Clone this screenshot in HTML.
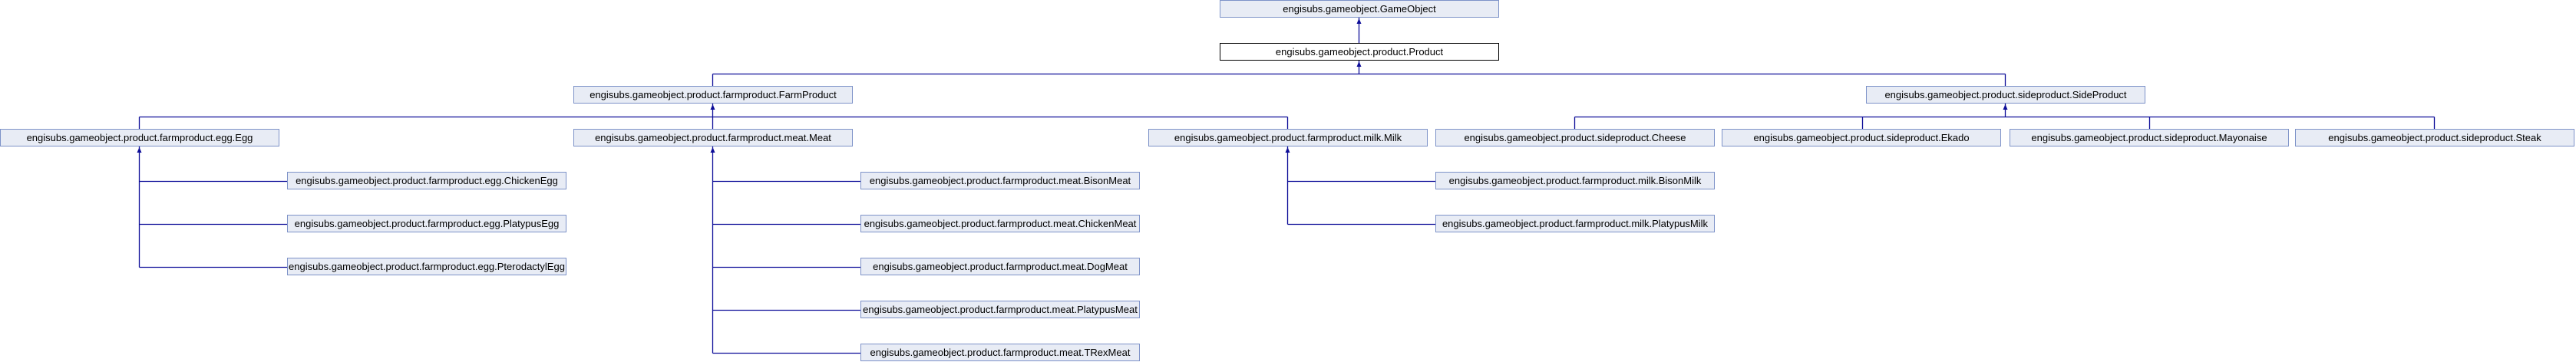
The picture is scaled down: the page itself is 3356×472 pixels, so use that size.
<!DOCTYPE html>
<html><head><meta charset="utf-8"><style>
html,body{margin:0;padding:0;background:#fff;width:3356px;height:472px;overflow:hidden}
svg text{font-family:"Liberation Sans",sans-serif;font-size:13px;fill:#000}
</style></head><body>
<svg width="3356" height="472" xmlns="http://www.w3.org/2000/svg">
<g fill="none" stroke="#0d0d98" stroke-width="1.3">
<path d="M1770.5 79V96.5M928.5 96.5H2612.5M928.5 96.5V112M2612.5 96.5V112"/>
<path d="M928.5 135V168M181.5 152.5H1677.5M181.5 152.5V168M1677.5 152.5V168"/>
<path d="M2612.5 135V152.5M2051.5 152.5H3171.5M2051.5 152.5V168M2426.5 152.5V168M2800.5 152.5V168M3171.5 152.5V168"/>
<path d="M181.5 191V348.5M181.5 236.5H374M181.5 292.5H374M181.5 348.5H374"/>
<path d="M928.5 191V460.5M928.5 236.5H1121M928.5 292.5H1121M928.5 348.5H1121M928.5 404.5H1121M928.5 460.5H1121"/>
<path d="M1677.5 191V292.5M1677.5 236.5H1870M1677.5 292.5H1870"/>
<path d="M1770.5 23V56"/>
</g>
<g fill="#0d0d98">
<path d="M1770.5 24l-3 7h6z"/><path d="M1770.5 80l-3 7h6z"/>
<path d="M928.5 136l-3 7h6z"/><path d="M2612.5 136l-3 7h6z"/>
<path d="M181.5 192l-3 7h6z"/><path d="M928.5 192l-3 7h6z"/><path d="M1677.5 192l-3 7h6z"/>
</g>
<g fill="#e8ecf5" stroke="#7d92c8" stroke-width="1">
<rect x="1589.5" y="0.5" width="363" height="22"/>
<rect x="747.5" y="112.5" width="363" height="22"/>
<rect x="2431.5" y="112.5" width="363" height="22"/>
<rect x="0.5" y="168.5" width="363" height="22"/>
<rect x="747.5" y="168.5" width="363" height="22"/>
<rect x="1496.5" y="168.5" width="363" height="22"/>
<rect x="1870.5" y="168.5" width="363" height="22"/>
<rect x="2243.5" y="168.5" width="363" height="22"/>
<rect x="2618.5" y="168.5" width="363" height="22"/>
<rect x="2990.5" y="168.5" width="363" height="22"/>
<rect x="374.5" y="224.5" width="363" height="22"/>
<rect x="374.5" y="280.5" width="363" height="22"/>
<rect x="374.5" y="336.5" width="363" height="22"/>
<rect x="1121.5" y="224.5" width="363" height="22"/>
<rect x="1121.5" y="280.5" width="363" height="22"/>
<rect x="1121.5" y="336.5" width="363" height="22"/>
<rect x="1121.5" y="392.5" width="363" height="22"/>
<rect x="1121.5" y="448.5" width="363" height="22"/>
<rect x="1870.5" y="224.5" width="363" height="22"/>
<rect x="1870.5" y="280.5" width="363" height="22"/>
</g>
<rect x="1589.5" y="56.5" width="363" height="22" fill="#fff" stroke="#000"/>
<g text-anchor="middle">
<text x="1771" y="16">engisubs.gameobject.GameObject</text>
<text x="1771" y="72">engisubs.gameobject.product.Product</text>
<text x="929" y="128">engisubs.gameobject.product.farmproduct.FarmProduct</text>
<text x="2613" y="128">engisubs.gameobject.product.sideproduct.SideProduct</text>
<text x="182" y="184">engisubs.gameobject.product.farmproduct.egg.Egg</text>
<text x="929" y="184">engisubs.gameobject.product.farmproduct.meat.Meat</text>
<text x="1678" y="184">engisubs.gameobject.product.farmproduct.milk.Milk</text>
<text x="2052" y="184">engisubs.gameobject.product.sideproduct.Cheese</text>
<text x="2425" y="184">engisubs.gameobject.product.sideproduct.Ekado</text>
<text x="2800" y="184">engisubs.gameobject.product.sideproduct.Mayonaise</text>
<text x="3172" y="184">engisubs.gameobject.product.sideproduct.Steak</text>
<text x="556" y="240">engisubs.gameobject.product.farmproduct.egg.ChickenEgg</text>
<text x="556" y="296">engisubs.gameobject.product.farmproduct.egg.PlatypusEgg</text>
<text x="556" y="352">engisubs.gameobject.product.farmproduct.egg.PterodactylEgg</text>
<text x="1303" y="240">engisubs.gameobject.product.farmproduct.meat.BisonMeat</text>
<text x="1303" y="296">engisubs.gameobject.product.farmproduct.meat.ChickenMeat</text>
<text x="1303" y="352">engisubs.gameobject.product.farmproduct.meat.DogMeat</text>
<text x="1303" y="408">engisubs.gameobject.product.farmproduct.meat.PlatypusMeat</text>
<text x="1303" y="464">engisubs.gameobject.product.farmproduct.meat.TRexMeat</text>
<text x="2052" y="240">engisubs.gameobject.product.farmproduct.milk.BisonMilk</text>
<text x="2052" y="296">engisubs.gameobject.product.farmproduct.milk.PlatypusMilk</text>
</g>
</svg>
</body></html>
